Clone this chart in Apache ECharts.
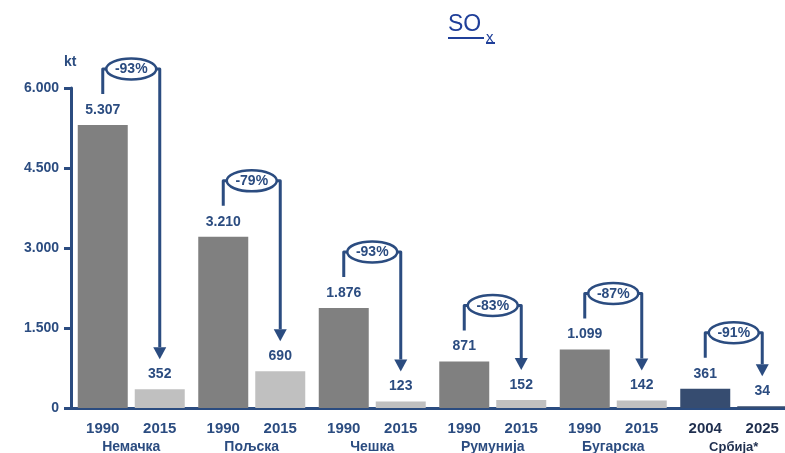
<!DOCTYPE html>
<html>
<head>
<meta charset="utf-8">
<script src="https://cdn.jsdelivr.net/npm/echarts@6/dist/echarts.min.js"></script>
<style>
  html, body { margin: 0; padding: 0; background: #fff; }
  #chart { width: 785px; height: 453px; }
</style>
</head>
<body>
<div id="chart"></div>
<script>
// podaci
const countries = ['Немачка', 'Пољска', 'Чешка', 'Румунија', 'Бугарска', 'Србија*'];
const firstYears = ['1990', '1990', '1990', '1990', '1990', '2004'];
const secondYears = ['2015', '2015', '2015', '2015', '2015', '2025'];
const firstValues = [5307, 3210, 1876, 871, 1099, 361];
const secondValues = [352, 690, 123, 152, 142, 34];
const changes = ['-93%', '-79%', '-93%', '-83%', '-87%', '-91%'];
const yTicks = [0, 1500, 3000, 4500, 6000];

const BLUE = '#2b4c80';
const FONT = 'Liberation Sans';
const BAR_W = 50;
const GAP_PX = 7;
const SERBIA = countries.length - 1;

const fmt = v => String(v).replace(/\B(?=(\d{3})+(?!\d))/g, '.');

const chart = echarts.init(document.getElementById('chart'));

// strelice sa procentom
function renderArrow(params, api) {
    const idx = api.value(0);
    const p1 = api.coord([idx, api.value(1)]);
    const p2 = api.coord([idx, api.value(2)]);
    const off = (BAR_W + GAP_PX) / 2;
    const x1 = p1[0] - off, x2 = p1[0] + off;
    const yH = p1[1] - 56;
    const yEnd = p2[1] - 42;
    const lineStyle = { stroke: BLUE, lineWidth: 3, fill: null, lineJoin: 'round' };
    return {
        type: 'group',
        children: [
            {
                type: 'polyline',
                shape: { points: [[x1, p1[1] - 31], [x1, yH], [x2, yH], [x2, yEnd]] },
                style: lineStyle
            },
            {
                type: 'polygon',
                shape: { points: [[x2 - 6.5, yEnd], [x2 + 6.5, yEnd], [x2, p2[1] - 30]] },
                style: { fill: BLUE }
            },
            {
                type: 'ellipse',
                shape: { cx: p1[0], cy: yH, rx: 25, ry: 10.5 },
                style: { fill: '#fff', stroke: BLUE, lineWidth: 2.5 }
            },
            {
                type: 'text',
                x: p1[0], y: yH + 0.5,
                style: {
                    text: changes[idx], fill: BLUE, font: 'bold 14px "' + FONT + '"',
                    align: 'center', verticalAlign: 'middle'
                }
            }
        ]
    };
}

const option = {
    animation: false,
    textStyle: { fontFamily: FONT },
    grid: { left: 71, top: 88, width: 723, height: 320, outerBoundsMode: 'none' },
    graphic: [
        {
            type: 'text', left: 448, top: 13,
            style: { text: 'SO', font: '23px "' + FONT + '"', fill: '#1f3f99' }
        },
        {
            type: 'text', left: 486, top: 30,
            style: { text: 'x', font: '15px "' + FONT + '"', fill: '#1f3f99' }
        },
        {
            type: 'line', shape: { x1: 448, y1: 38, x2: 484, y2: 38 },
            style: { stroke: '#1f3f99', lineWidth: 2 }
        },
        {
            type: 'line', shape: { x1: 486, y1: 43, x2: 495, y2: 43 },
            style: { stroke: '#1f3f99', lineWidth: 2 }
        },
        {
            type: 'text', left: 64, top: 55,
            style: { text: 'kt', font: 'bold 14px "' + FONT + '"', fill: BLUE }
        }
    ],
    xAxis: {
        type: 'category',
        data: countries,
        axisLine: { lineStyle: { color: BLUE, width: 3 } },
        axisTick: { show: false },
        axisLabel: {
            interval: 0,
            margin: 12,
            formatter: (value, index) => {
                const s = index === SERBIA ? 's' : '';
                return '{y' + s + '|' + firstYears[index] + '}{y' + s + '|' + secondYears[index] + '}\n{c' + s + '|' + value + '}';
            },
            rich: {
                y: { width: BAR_W + GAP_PX, align: 'center', fontSize: 15, fontWeight: 'bold', color: BLUE, lineHeight: 18 },
                c: { fontSize: 14, fontWeight: 'bold', color: BLUE, lineHeight: 18 },
                ys: { width: BAR_W + GAP_PX, align: 'center', fontSize: 15, fontWeight: 'bold', color: '#1f2f4f', lineHeight: 18 },
                cs: { fontSize: 13, fontWeight: 'bold', color: '#1f2f4f', lineHeight: 18 }
            }
        }
    },
    yAxis: {
        type: 'value',
        min: 0,
        max: yTicks[yTicks.length - 1],
        interval: yTicks[1] - yTicks[0],
        splitLine: { show: false },
        axisLine: { show: true, lineStyle: { color: BLUE, width: 3 } },
        axisTick: { show: true, length: 7, lineStyle: { color: BLUE, width: 3 } },
        axisLabel: {
            color: BLUE, fontSize: 14, fontWeight: 'bold', margin: 12,
            formatter: fmt
        }
    },
    series: [
        {
            type: 'bar',
            barWidth: BAR_W,
            barGap: (GAP_PX / BAR_W * 100) + '%',
            data: firstValues.map((v, i) => ({
                value: v,
                itemStyle: { color: i === SERBIA ? '#364c70' : '#808080' }
            })),
            label: {
                show: true, position: 'top', distance: 8,
                color: BLUE, fontSize: 14, fontWeight: 'bold',
                formatter: p => fmt(p.value)
            }
        },
        {
            type: 'bar',
            barWidth: BAR_W,
            data: secondValues.map((v, i) => ({
                value: v,
                itemStyle: { color: i === SERBIA ? '#364c70' : '#c0c0c0' }
            })),
            label: {
                show: true, position: 'top', distance: 8,
                color: BLUE, fontSize: 14, fontWeight: 'bold',
                formatter: p => fmt(p.value)
            }
        },
        {
            type: 'custom',
            renderItem: renderArrow,
            clip: false,
            silent: true,
            encode: { x: 0, y: [1, 2] },
            data: countries.map((c, i) => [i, firstValues[i], secondValues[i]]),
            z: 5
        }
    ]
};

chart.setOption(option);
</script>
</body>
</html>
